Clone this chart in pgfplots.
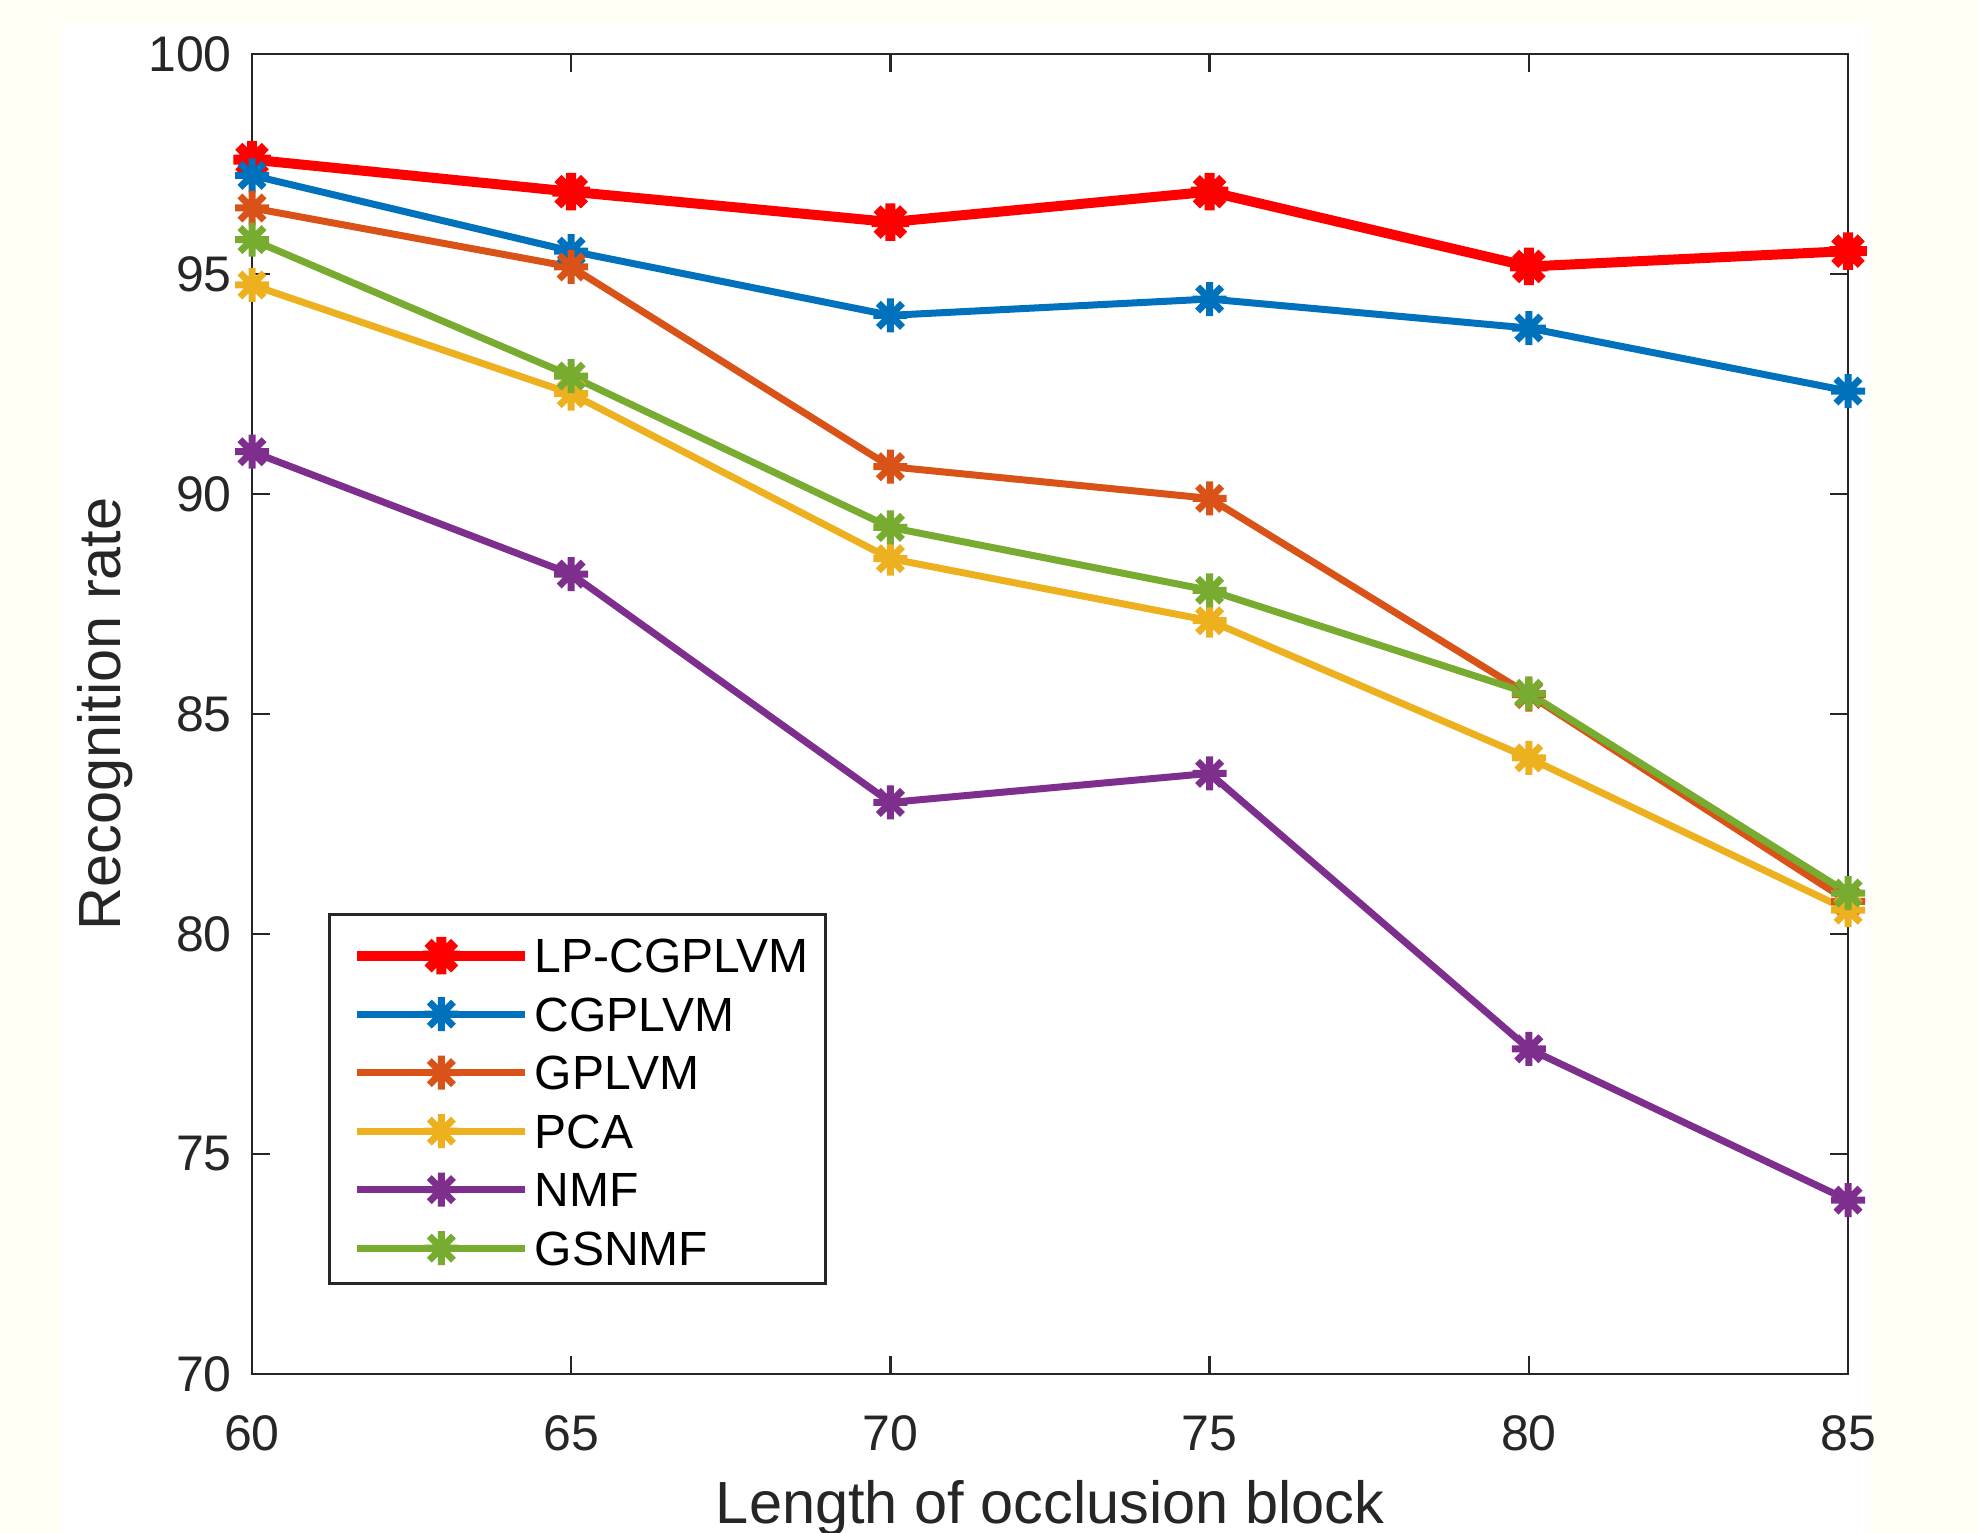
\documentclass[border=0pt]{standalone}
\usepackage{pgfplots}
\pgfplotsset{compat=1.18}
\usepackage{fontspec}
\setmainfont{Liberation Sans}

\definecolor{axcol}{RGB}{38,38,38}
\definecolor{bgcream}{RGB}{255,255,245}
\definecolor{mred}{RGB}{255,0,0}
\definecolor{mblue}{RGB}{0,114,189}
\definecolor{morange}{RGB}{217,83,25}
\definecolor{myellow}{RGB}{237,177,32}
\definecolor{mpurple}{RGB}{126,47,142}
\definecolor{mgreen}{RGB}{119,172,48}

% matlab style '*' marker: plus and cross together
\pgfdeclareplotmark{mstar}{%
  \pgfpathmoveto{\pgfqpoint{0pt}{\pgfplotmarksize}}%
  \pgfpathlineto{\pgfqpoint{0pt}{-\pgfplotmarksize}}%
  \pgfpathmoveto{\pgfqpoint{\pgfplotmarksize}{0pt}}%
  \pgfpathlineto{\pgfqpoint{-\pgfplotmarksize}{0pt}}%
  \pgfpathmoveto{\pgfqpoint{.7071\pgfplotmarksize}{.7071\pgfplotmarksize}}%
  \pgfpathlineto{\pgfqpoint{-.7071\pgfplotmarksize}{-.7071\pgfplotmarksize}}%
  \pgfpathmoveto{\pgfqpoint{-.7071\pgfplotmarksize}{.7071\pgfplotmarksize}}%
  \pgfpathlineto{\pgfqpoint{.7071\pgfplotmarksize}{-.7071\pgfplotmarksize}}%
  \pgfusepathqstroke}

\begin{document}
\begin{tikzpicture}
\useasboundingbox (0,0) rectangle (395.8pt,306.6pt);
\clip (0,0) rectangle (395.8pt,306.6pt);
\fill[bgcream] (0,0) rectangle (395.8pt,306.6pt);
\fill[white] (12.2pt,0) rectangle (374pt,301.8pt);
\begin{axis}[
  at={(50.4pt,31.8pt)}, anchor=south west,
  scale only axis,
  width=319.2pt, height=264pt,
  xmin=60, xmax=85, ymin=70, ymax=100,
  xtick={60,65,...,85}, ytick={70,75,...,100},
  tick align=inside,
  major tick length=3.6pt,
  axis line style={axcol, line width=0.55pt},
  tick style={axcol, line width=0.5pt},
  clip=false,
  /pgf/number format/assume math mode=true,
  ticklabel style={font=\fontsize{10}{12}\selectfont, text=axcol},
  xticklabel style={anchor=base, yshift=-15.4pt},
  yticklabel style={anchor=east, inner sep=0pt, xshift=-3.85pt},
  xlabel={Length of occlusion block},
  ylabel={Recognition rate},
  label style={font=\fontsize{11.9}{14}\selectfont, text=axcol},
  xlabel style={at={(axis description cs:0.5,-0.1129)}, anchor=base},
  ylabel style={at={(axis description cs:-0.0827,0.5)}, anchor=base},
  legend cell align=left,
  legend style={at={(axis description cs:0.0476,0.0674)}, anchor=south west,
    draw=axcol, line width=0.55pt, fill=white,
    inner xsep=2.5pt, inner ysep=1.85pt, row sep=0pt,
    cells={anchor=base west},
    font=\fontsize{9.6}{11}\selectfont,
    nodes={inner xsep=0.9pt, inner ysep=0pt, text height=9.9pt, text depth=1.8pt}},
  legend image code/.code={%
    \draw[mark repeat=2, mark phase=2] plot coordinates {(0pt,3.45pt) (16.8pt,3.45pt) (33.6pt,3.45pt)};
    \path (-2.1pt,3.45pt) (33.6pt,3.45pt);},
  every axis plot/.append style={mark=mstar, mark options={solid}},
]
\addplot[mred, line width=2pt, mark size=3.75pt] coordinates {
  (60,97.60) (65,96.87) (70,96.18) (75,96.87) (80,95.17) (85,95.52)};
\addplot[mblue, line width=1.4pt, mark size=3.4pt] coordinates {
  (60,97.24) (65,95.52) (70,94.06) (75,94.43) (80,93.77) (85,92.34)};
\addplot[morange, line width=1.4pt, mark size=3.4pt] coordinates {
  (60,96.50) (65,95.16) (70,90.62) (75,89.90) (80,85.44) (85,80.74)};
\addplot[myellow, line width=1.4pt, mark size=3.4pt] coordinates {
  (60,94.75) (65,92.28) (70,88.53) (75,87.12) (80,84.00) (85,80.54)};
\addplot[mpurple, line width=1.4pt, mark size=3.4pt] coordinates {
  (60,90.96) (65,88.18) (70,82.99) (75,83.65) (80,77.39) (85,73.95)};
\addplot[mgreen, line width=1.4pt, mark size=3.4pt] coordinates {
  (60,95.78) (65,92.68) (70,89.24) (75,87.81) (80,85.47) (85,80.93)};
\legend{LP-CGPLVM,CGPLVM,GPLVM,PCA,NMF,GSNMF}
\end{axis}
\end{tikzpicture}
\end{document}
